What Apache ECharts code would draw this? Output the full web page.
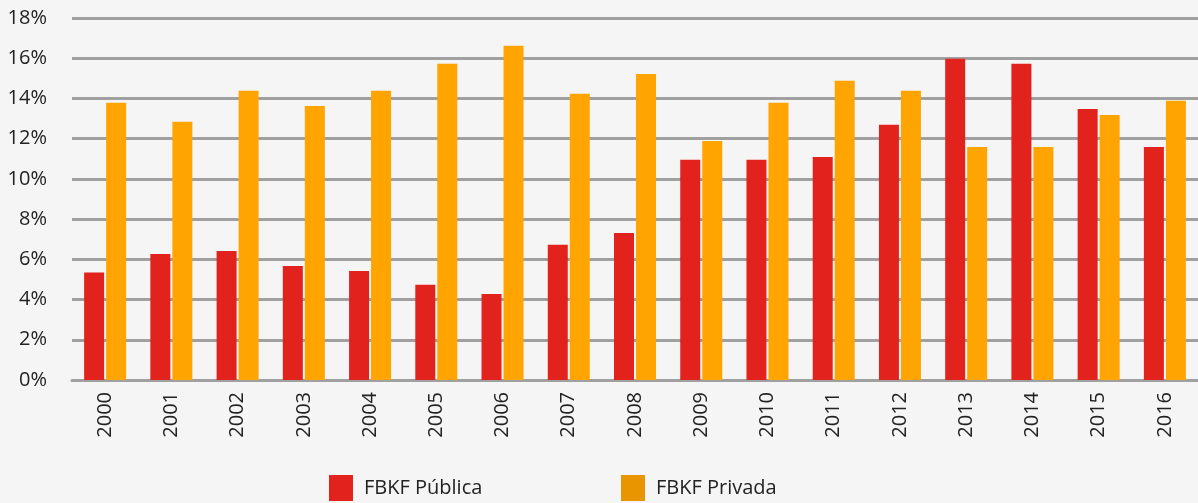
<!DOCTYPE html>
<html>
<head>
<meta charset="utf-8">
<script src="https://cdn.jsdelivr.net/npm/echarts@6/dist/echarts.min.js"></script>
<style>
  html, body { margin: 0; padding: 0; background: #f5f5f5; }
  #chart { width: 1198px; height: 503px; }
</style>
</head>
<body>
<div id="chart"></div>
<script>
const years = ['2000', '2001', '2002', '2003', '2004', '2005', '2006', '2007', '2008',
  '2009', '2010', '2011', '2012', '2013', '2014', '2015', '2016'];
const publica = [5.34, 6.27, 6.42, 5.67, 5.42, 4.73, 4.28, 6.72, 7.31,
  10.95, 10.95, 11.09, 12.69, 15.97, 15.72, 13.48, 11.59];
const privada = [13.78, 12.84, 14.38, 13.63, 14.38, 15.72, 16.62, 14.23, 15.22,
  11.89, 13.78, 14.88, 14.38, 11.59, 11.59, 13.18, 13.88];

const chart = echarts.init(document.getElementById('chart'));
const fontFamily = '"Open Sans", "Noto Sans", sans-serif';
const legendText = {
  fontSize: 20, color: '#222', fontFamily: fontFamily, padding: [8, 0, 0, 6]
};

chart.setOption({
  backgroundColor: '#f5f5f5',
  animation: false,
  grid: { left: 72, right: 0, top: 18, bottom: 123 },
  legend: [
    {
      data: [{ name: 'FBKF Pública', icon: 'rect', itemStyle: { color: '#e2231d' } }],
      left: 329, top: 475, padding: 0, itemWidth: 24, itemHeight: 26, itemGap: 11,
      textStyle: legendText
    },
    {
      data: [{ name: 'FBKF Privada', icon: 'rect', itemStyle: { color: '#e99500' } }],
      left: 621, top: 475, padding: 0, itemWidth: 24, itemHeight: 26, itemGap: 11,
      textStyle: legendText
    }
  ],
  xAxis: {
    type: 'category',
    data: years,
    axisTick: { show: false },
    axisLine: { lineStyle: { color: '#a0a0a0', width: 3 } },
    axisLabel: {
      rotate: 90, margin: 12, fontSize: 20, color: '#222', fontFamily: fontFamily
    }
  },
  yAxis: {
    type: 'value',
    min: 0, max: 18, interval: 2,
    axisLine: { show: false },
    axisTick: { show: false },
    splitLine: { lineStyle: { color: '#a0a0a0', width: 3 } },
    axisLabel: {
      formatter: '{value}%', margin: 25, fontSize: 20, color: '#222', fontFamily: fontFamily
    }
  },
  series: [
    {
      name: 'FBKF Pública', type: 'bar', data: publica,
      barWidth: 20, barGap: '10%',
      itemStyle: { color: '#e2231d' }
    },
    {
      name: 'FBKF Privada', type: 'bar', data: privada,
      barWidth: 20, barGap: '10%',
      itemStyle: { color: '#ffa400' }
    }
  ]
});
</script>
</body>
</html>
